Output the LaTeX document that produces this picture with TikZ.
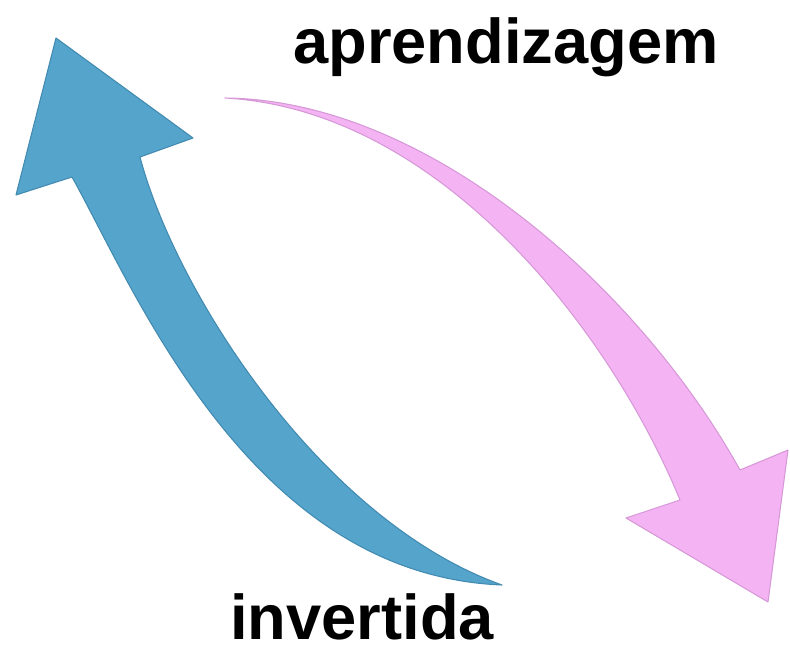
\documentclass[tikz,border=0pt]{standalone}
\usepackage{fontspec}
\setmainfont{Liberation Sans}
\usetikzlibrary{positioning}

\definecolor{arrowblue}{RGB}{84,164,204}
\definecolor{arrowbluedark}{RGB}{66,138,176}
\definecolor{arrowpink}{RGB}{244,180,244}
\definecolor{arrowpinkdark}{RGB}{214,152,214}

\begin{document}
\begin{tikzpicture}[
    x=0.02cm, y=-0.02cm,
    caption/.style={font=\fontsize{36}{40}\selectfont\bfseries, inner sep=0pt, anchor=base},
    bluearrow/.style={fill=arrowblue, draw=arrowbluedark, line width=0.6pt, line join=round},
    pinkarrow/.style={fill=arrowpink, draw=arrowpinkdark, line width=0.6pt, line join=round}
]
    \useasboundingbox (0,0) rectangle (790,649);

    % Blue arrow (pointing up-left)
    \filldraw[bluearrow] (56,38) -- (193,138) -- (140,157)
        .. controls (175,290) and (320,520) .. (502,585)
        .. controls (250,575) and (135,290) .. (72,177)
        -- (16,195) -- cycle;

    % Pink arrow (pointing down-right)
    \filldraw[pinkarrow] (225,98)
        .. controls (430,100) and (640,290) .. (740,470)
        -- (788,450) -- (768,602) -- (626,518) -- (680,500)
        .. controls (610,330) and (440,110) .. (225,98)
        -- cycle;

    % Labels
    \node[caption] (aprendizagem) at (506,63) {aprendizagem};
    \node[caption] (invertida) at (362,639) {invertida};
\end{tikzpicture}
\end{document}
